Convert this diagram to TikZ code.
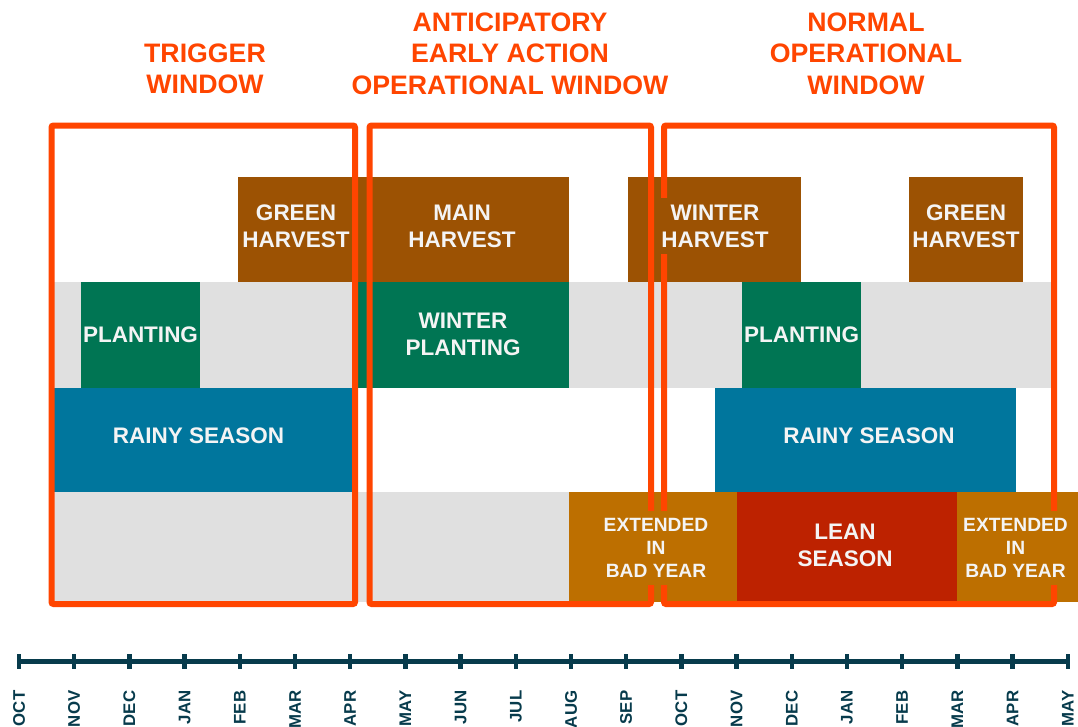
\documentclass[tikz,border=0pt]{standalone}
\usepackage{fontspec}
\setmainfont{Liberation Sans}
\definecolor{harv}{HTML}{9C5203}
\definecolor{plant}{HTML}{007553}
\definecolor{band}{HTML}{E0E0E0}
\definecolor{rain}{HTML}{00769D}
\definecolor{ext}{HTML}{BD6F00}
\definecolor{lean}{HTML}{BD2200}
\definecolor{framecol}{HTML}{FF4500}
\definecolor{axiscol}{HTML}{073B4C}
\definecolor{lblwhite}{HTML}{F4F4F4}
\begin{document}
\begin{tikzpicture}[x=1pt,y=-1pt,
  lbl/.style={text=lblwhite, font=\bfseries\fontsize{22.5}{27}\selectfont, align=center, inner xsep=2pt, inner ysep=7pt},
  sml/.style={text=lblwhite, font=\bfseries\fontsize{19.2}{23}\selectfont, align=center, inner xsep=2pt, inner ysep=7pt},
  winframe/.style={draw=framecol, line width=6pt, rounded corners=2pt},
  ttl/.style={text=framecol, font=\bfseries\fontsize{26.7}{31.5}\selectfont, align=center},
  month/.style={text=axiscol, font=\bfseries\fontsize{16.8}{16.8}\selectfont, rotate=90, anchor=east, inner sep=0pt},
  axisline/.style={draw=axiscol, line width=4.5pt},
  tickmark/.style={draw=axiscol, line width=4.5pt}]
\useasboundingbox (0,0) rectangle (1078,726);
\fill[white] (0,0) rectangle (1078,726);

% grey bands
\fill[band] (52,282) rectangle (1054,388);
\fill[band] (52,492) rectangle (569,602);

% harvest row
\fill[harv] (238,177) rectangle (357,282);
\fill[harv] (357,177) rectangle (569,282);
\fill[harv] (628,177) rectangle (801,282);
\fill[harv] (909,177) rectangle (1023,282);

% planting row
\fill[plant] (81,282) rectangle (200,388);
\fill[plant] (357,282) rectangle (569,388);
\fill[plant] (742,282) rectangle (861,388);

% rainy row
\fill[rain] (52,388) rectangle (352,492);
\fill[rain] (715,388) rectangle (1016,492);

% lean row
\fill[ext] (569,492) rectangle (737,602);
\fill[lean] (737,492) rectangle (957,602);
\fill[ext] (957,492) rectangle (1078,602);

% window frames
\draw[winframe] (51.5,125.5) rectangle (355,604);
\draw[winframe] (369.5,125.5) rectangle (651,604);
\draw[winframe] (664,125.5) rectangle (1054,604);

% labels
\node[lbl, fill=harv] (gh1) at (296,226) {GREEN\\HARVEST};
\node[lbl, fill=harv] (mh) at (462,226) {MAIN\\HARVEST};
\node[lbl, fill=harv] (wh) at (715,226) {WINTER\\HARVEST};
\node[lbl, fill=harv] (gh2) at (966,226) {GREEN\\HARVEST};
\node[lbl, fill=plant] (pl1) at (140.5,335) {PLANTING};
\node[lbl, fill=plant] (wp) at (463,334) {WINTER\\PLANTING};
\node[lbl, fill=plant] (pl2) at (801.5,335) {PLANTING};
\node[lbl, fill=rain] (rs1) at (198.5,436) {RAINY SEASON};
\node[lbl, fill=rain] (rs2) at (869,436) {RAINY SEASON};
\node[lbl, fill=lean] (ls) at (845,545) {LEAN\\SEASON};
\node[sml, fill=ext] (ex1) at (656,548) {EXTENDED\\IN\\BAD YEAR};
\node[sml, fill=ext] (ex2) at (1015.5,548) {EXTENDED\\IN\\BAD YEAR};

% titles
\node[ttl] (t1) at (205,69) {TRIGGER\\WINDOW};
\node[ttl] (t2) at (510,53.5) {ANTICIPATORY\\EARLY ACTION\\OPERATIONAL WINDOW};
\node[ttl] (t3) at (866,53.5) {NORMAL\\OPERATIONAL\\WINDOW};

% axis
\foreach \name [count=\i from 0] in {OCT,NOV,DEC,JAN,FEB,MAR,APR,MAY,JUN,JUL,AUG,SEP,OCT,NOV,DEC,JAN,FEB,MAR,APR,MAY}{
  \coordinate (a\i) at ({19+55.2*\i},661.5);
  \node[month] (m\i) at ({19+55.2*\i},690.5) {\name};
}
\draw[axisline] (a0) -- (a19);
\foreach \i in {0,...,19}{
  \draw[tickmark] (a\i) ++(0,-7.5) -- ++(0,15);
}
\end{tikzpicture}
\end{document}
